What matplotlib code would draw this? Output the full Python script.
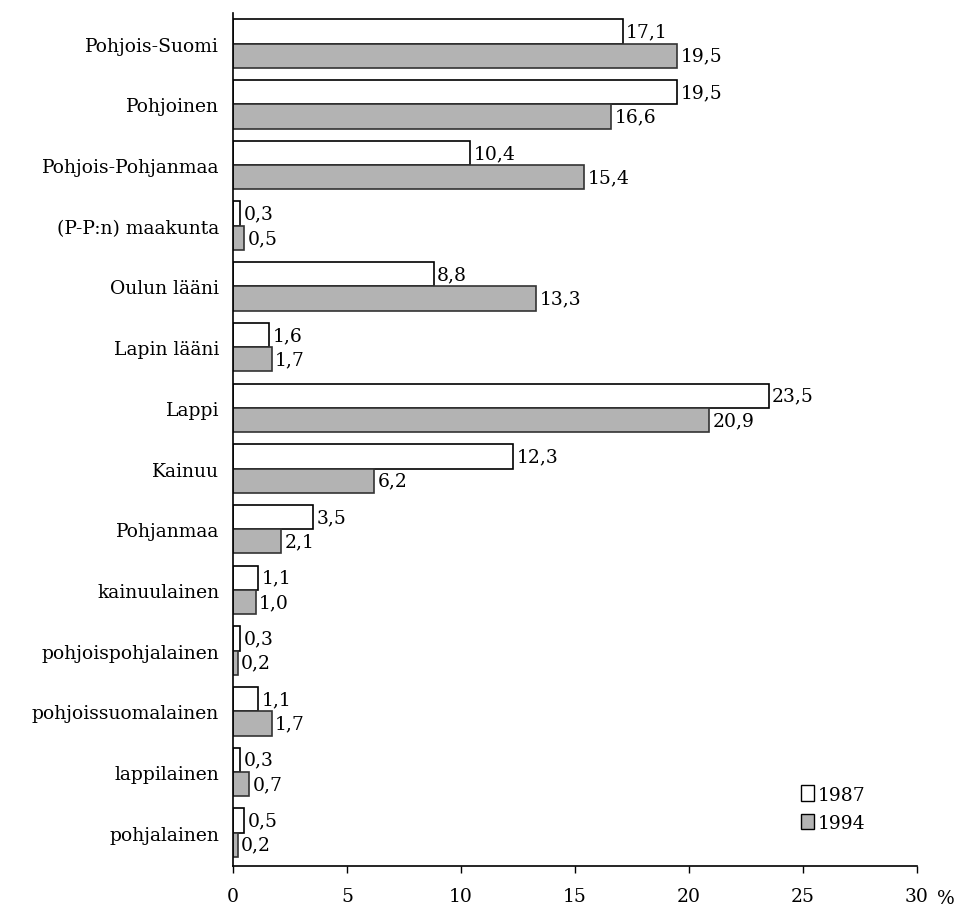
import numpy as np
import matplotlib.pyplot as plt
from matplotlib.patches import Patch

categories = ['Pohjois-Suomi', 'Pohjoinen', 'Pohjois-Pohjanmaa', '(P-P:n) maakunta',
              'Oulun lääni', 'Lapin lääni', 'Lappi', 'Kainuu', 'Pohjanmaa',
              'kainuulainen', 'pohjoispohjalainen', 'pohjoissuomalainen',
              'lappilainen', 'pohjalainen']
v1987 = [17.1, 19.5, 10.4, 0.3, 8.8, 1.6, 23.5, 12.3, 3.5, 1.1, 0.3, 1.1, 0.3, 0.5]
v1994 = [19.5, 16.6, 15.4, 0.5, 13.3, 1.7, 20.9, 6.2, 2.1, 1.0, 0.2, 1.7, 0.7, 0.2]
xticks = [0, 5, 10, 15, 20, 25, 30]

plt.rcParams['font.family'] = ['DejaVu Serif']
FS = 13.5

fig = plt.figure(figsize=(9.57, 9.12), dpi=100)
ax = fig.add_axes([0.2435, 0.0493, 0.7145, 0.935])

y = np.arange(len(categories))
h = 0.4
grey = '#b3b3b3'
ax.barh(y - h / 2, v1987, height=h, color='white', edgecolor='black', linewidth=1.2)
ax.barh(y + h / 2, v1994, height=h, color=grey, edgecolor='#333333', linewidth=1.2)

fmt = lambda v: f'{v:.1f}'.replace('.', ',')
for yi, a, b in zip(y, v1987, v1994):
    ax.text(a + 0.15, yi - h / 2, fmt(a), va='center', ha='left', fontsize=FS)
    ax.text(b + 0.15, yi + h / 2, fmt(b), va='center', ha='left', fontsize=FS)

ax.set_ylim(len(categories) - 0.45, -0.5)
ax.set_xlim(0, 30)
ax.set_yticks(y)
ax.set_yticklabels(categories, fontsize=FS)
ax.tick_params(axis='y', length=0, pad=10)
ax.set_xticks(xticks)
ax.set_xticklabels([str(t) for t in xticks], fontsize=FS)
ax.tick_params(axis='x', direction='out', length=5, width=1, pad=10)
ax.spines['top'].set_visible(False)
ax.spines['right'].set_visible(False)
ax.spines['left'].set_linewidth(1.2)
ax.spines['bottom'].set_linewidth(1.2)

ax.text(1.042, -0.038, '%', transform=ax.transAxes, fontsize=FS, ha='center', va='center')

handles = [Patch(facecolor='white', edgecolor='black', label='1987'),
           Patch(facecolor=grey, edgecolor='black', label='1994')]
ax.legend(handles=handles, loc='lower right', bbox_to_anchor=(0.95, 0.02), frameon=False,
          fontsize=FS, handlelength=0.7, handleheight=0.9, handletextpad=0.2,
          labelspacing=0.55)

fig.savefig('out.png', dpi=100)
